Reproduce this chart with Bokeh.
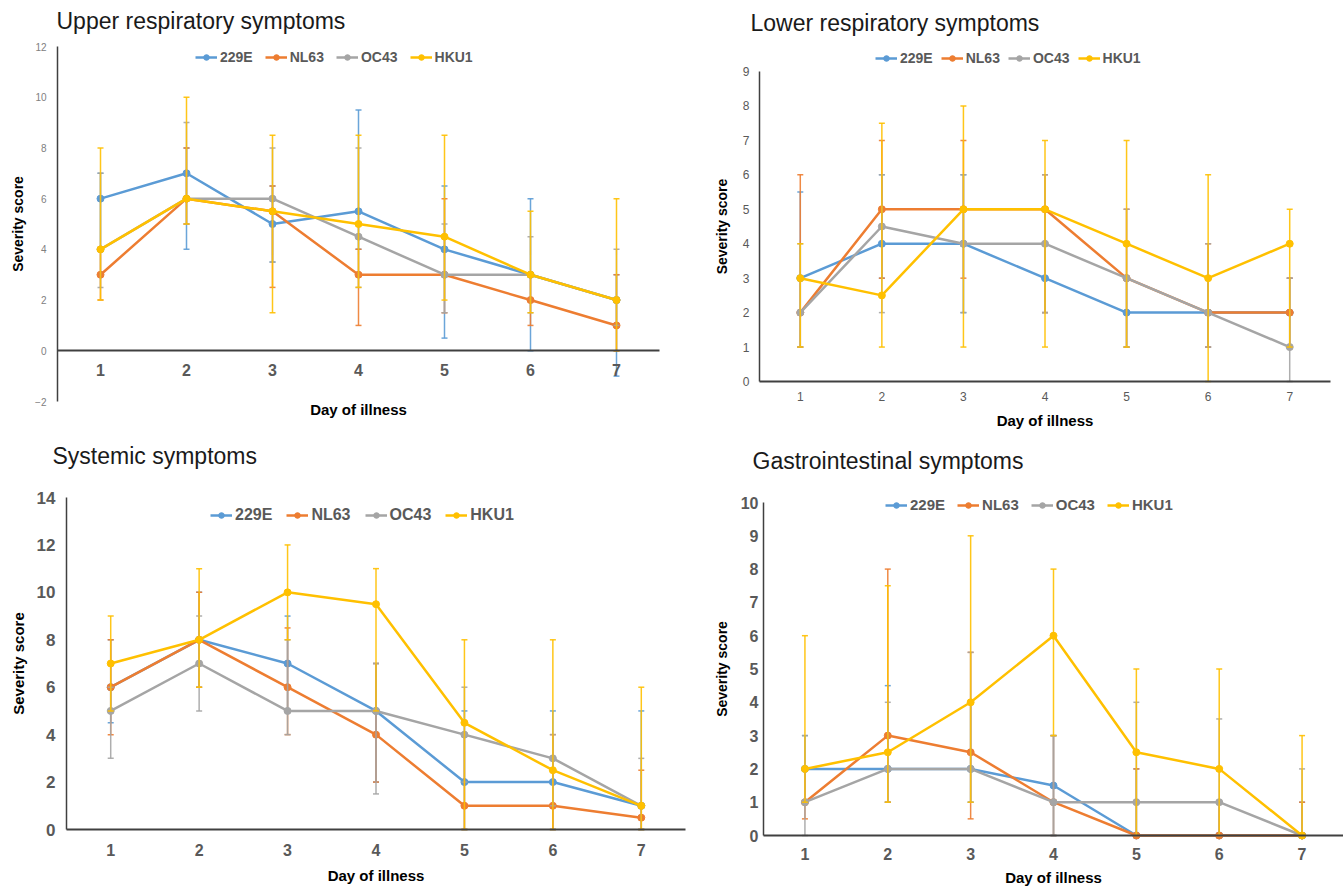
from bokeh.plotting import figure
from bokeh.layouts import column, row
from bokeh.models import Range1d, FixedTicker, Legend, LegendItem, Label
from bokeh.embed import file_html
from bokeh.resources import INLINE

# ---------------- data ----------------
days = [1, 2, 3, 4, 5, 6, 7]
series = ["229E", "NL63", "OC43", "HKU1"]
colors = ["#5B9BD5", "#ED7D31", "#A5A5A5", "#FFC000"]

# Upper respiratory
ur_229e = [6, 7, 5, 5.5, 4, 3, 2]
ur_229e_lo = [4, 4, 3.5, 4, 0.5, 0, -1]
ur_229e_hi = [7, 8, 6.5, 9.5, 6.5, 6, 3]
ur_nl63 = [3, 6, 5.5, 3, 3, 2, 1]
ur_nl63_lo = [2, 5, 2.5, 1, 1.5, 1, 0]
ur_nl63_hi = [4, 8, 6.5, 4, 6, 3, 3]
ur_oc43 = [4, 6, 6, 4.5, 3, 3, 2]
ur_oc43_lo = [2.5, 5, 3.5, 2.5, 1.5, 1.5, 1]
ur_oc43_hi = [7, 9, 8, 8, 5, 4.5, 4]
ur_hku1 = [4, 6, 5.5, 5, 4.5, 3, 2]
ur_hku1_lo = [2, 5, 1.5, 2.5, 2, 1.5, 0]
ur_hku1_hi = [8, 10, 8.5, 8.5, 8.5, 5.5, 6]

# Lower respiratory
lr_229e = [3, 4, 4, 3, 2, 2, 2]
lr_229e_lo = [1, 3, 2, 2, 1, 1, 1]
lr_229e_hi = [5.5, 6, 6, 4, 3, 3, 3]
lr_nl63 = [2, 5, 5, 5, 3, 2, 2]
lr_nl63_lo = [1, 3, 3, 2, 1, 1, 1]
lr_nl63_hi = [6, 7, 7, 6, 5, 4, 3]
lr_oc43 = [2, 4.5, 4, 4, 3, 2, 1]
lr_oc43_lo = [1, 2, 2, 2, 1, 1, 0]
lr_oc43_hi = [4, 6, 6, 6, 5, 4, 3]
lr_hku1 = [3, 2.5, 5, 5, 4, 3, 4]
lr_hku1_lo = [1, 1, 1, 1, 1, 0, 1]
lr_hku1_hi = [4, 7.5, 8, 7, 7, 6, 5]

# Systemic
sy_229e = [6, 8, 7, 5, 2, 2, 1]
sy_229e_lo = [4.5, 6, 5, 2, 0, 0, 0]
sy_229e_hi = [8, 10, 9, 7, 5, 5, 5]
sy_nl63 = [6, 8, 6, 4, 1, 1, 0.5]
sy_nl63_lo = [4, 6, 4, 2, 0, 0, 0]
sy_nl63_hi = [8, 10, 8.5, 7, 4, 4, 2.5]
sy_oc43 = [5, 7, 5, 5, 4, 3, 1]
sy_oc43_lo = [3, 5, 4, 1.5, 2, 1, 0]
sy_oc43_hi = [6, 9, 8, 7, 6, 4, 3]
sy_hku1 = [7, 8, 10, 9.5, 4.5, 2.5, 1]
sy_hku1_lo = [5, 6, 8, 5, 0, 0, 0]
sy_hku1_hi = [9, 11, 12, 11, 8, 8, 6]

# Gastrointestinal
gi_229e = [2, 2, 2, 1.5, 0, 0, 0]
gi_229e_lo = [1, 1, 1, 0, 0, 0, 0]
gi_229e_hi = [3, 4.5, 4, 3, 2, 1, 1]
gi_nl63 = [1, 3, 2.5, 1, 0, 0, 0]
gi_nl63_lo = [0.5, 1, 0.5, 0, 0, 0, 0]
gi_nl63_hi = [2, 8, 5.5, 3, 2, 1, 1]
gi_oc43 = [1, 2, 2, 1, 1, 1, 0]
gi_oc43_lo = [0, 1, 1, 0, 0, 0, 0]
gi_oc43_hi = [3, 4, 5.5, 3, 4, 3.5, 2]
gi_hku1 = [2, 2.5, 4, 6, 2.5, 2, 0]
gi_hku1_lo = [1, 1, 1, 3, 0, 0, 0]
gi_hku1_hi = [6, 7.5, 9, 8, 5, 5, 3]

FONT = "Liberation Sans"


def make_panel(title, vals, los, his, ybounds, yticks, g, s):
    W, H = g["W"], g["H"]
    # pixel geometry (relative to the figure's top-left) -> data ranges
    xs = (g["axr"] - g["axl"]) / 7.0
    x0 = 0.5 - g["axl"] / xs
    x1 = 0.5 + (W - g["axl"]) / xs
    ylo, yhi = ybounds
    ys = (g["ybot"] - g["ytop"]) / float(yhi - ylo)
    y1 = yhi + g["ytop"] / ys
    y0 = ylo - (H - g["ybot"]) / ys

    p = figure(width=W, height=H, min_border=0,
               x_range=Range1d(x0, x1), y_range=Range1d(y0, y1),
               output_backend="svg", toolbar_location=None)
    p.outline_line_color = None
    p.grid.visible = False
    p.background_fill_color = "white"
    p.border_fill_color = "white"

    xa = p.xaxis[0]
    xa.fixed_location = 0
    xa.bounds = (0.5, 7.5)
    xa.ticker = FixedTicker(ticks=days)
    xa.major_tick_line_color = None
    xa.major_tick_out = 0
    xa.major_tick_in = 0
    xa.minor_tick_line_color = None
    xa.axis_line_color = "#404040"
    xa.axis_line_width = 2
    xa.major_label_text_font = FONT
    xa.major_label_text_font_size = s["xfs"]
    xa.major_label_text_font_style = s["xst"]
    xa.major_label_text_color = "#595959"
    xa.major_label_standoff = s["xstand"]
    xa.axis_label = "Day of illness"
    xa.axis_label_standoff = s["xlstand"]
    xa.axis_label_text_font = FONT
    xa.axis_label_text_font_size = "15px"
    xa.axis_label_text_font_style = "bold"
    xa.axis_label_text_color = "#000000"

    ya = p.yaxis[0]
    ya.fixed_location = 0.5
    ya.bounds = ybounds
    ya.ticker = FixedTicker(ticks=yticks)
    ya.major_label_overrides = {t: ("\u2212" + str(-t)) for t in yticks if t < 0}
    ya.major_tick_line_color = None
    ya.major_tick_out = 0
    ya.major_tick_in = 0
    ya.minor_tick_line_color = None
    ya.axis_line_color = "#404040"
    ya.axis_line_width = 1.5
    ya.major_label_text_font = FONT
    ya.major_label_text_font_size = s["yfs"]
    ya.major_label_text_font_style = s["yst"]
    ya.major_label_text_color = s["ycol"]
    ya.major_label_standoff = s["ystand"]
    ya.axis_label = "Severity score"
    ya.axis_label_standoff = s["ylstand"]
    ya.axis_label_text_font = FONT
    ya.axis_label_text_font_size = s["ylfs"]
    ya.axis_label_text_font_style = "bold"
    ya.axis_label_text_color = "#000000"

    items = []
    for name, col, v, lo, hi in zip(series, colors, vals, los, his):
        p.segment(x0=days, y0=lo, x1=days, y1=hi, line_color=col, line_width=1.5, line_alpha=0.9)
        p.scatter(x=days + days, y=lo + hi, marker="dash", size=6, line_color=col,
                  line_width=1.5, line_alpha=0.9)
        lr = p.line(x=days, y=v, line_color=col, line_width=2.5)
        cr = p.scatter(x=days, y=v, marker="circle", size=7, fill_color=col, line_color=col)
        items.append(LegendItem(label=name, renderers=[lr, cr]))

    tx, ty = s["title_at"]
    p.add_layout(Label(x=tx, y=H - ty, x_units="screen", y_units="screen", text=title,
                       text_font=FONT, text_font_size="23px", text_color="#1a1a1a",
                       text_baseline="middle", text_align="left"))

    lx, lcy = s["leg_at"]
    leg = Legend(items=items, orientation="horizontal", location=(lx, H - lcy - 8),
                 border_line_color=None, background_fill_alpha=0,
                 padding=0, margin=0, spacing=s["legsp"], label_standoff=3,
                 glyph_width=22, glyph_height=14,
                 label_text_font=FONT, label_text_font_size=s["legfs"],
                 label_text_font_style="bold", label_text_color="#595959",
                 label_height=14)
    p.add_layout(leg, "center")
    return p


p1 = make_panel("Upper respiratory symptoms",
                [ur_229e, ur_nl63, ur_oc43, ur_hku1],
                [ur_229e_lo, ur_nl63_lo, ur_oc43_lo, ur_hku1_lo],
                [ur_229e_hi, ur_nl63_hi, ur_oc43_hi, ur_hku1_hi],
                (-2, 12), [-2, 0, 2, 4, 6, 8, 10, 12],
                dict(W=670, H=432, axl=57, axr=659, ytop=46, ybot=401),
                dict(xfs="16px", xst="bold", xstand=13, xlstand=22,
                     yfs="10px", yst="normal", ycol="#808080", ystand=11,
                     ylstand=6, ylfs="14px", title_at=(56, 20), leg_at=(195, 57),
                     legsp=12, legfs="14px"))

p2 = make_panel("Lower respiratory symptoms",
                [lr_229e, lr_nl63, lr_oc43, lr_hku1],
                [lr_229e_lo, lr_nl63_lo, lr_oc43_lo, lr_hku1_lo],
                [lr_229e_hi, lr_nl63_hi, lr_oc43_hi, lr_hku1_hi],
                (0, 9), list(range(0, 10)),
                dict(W=673, H=432, axl=89, axr=660, ytop=71, ybot=381),
                dict(xfs="12px", xst="normal", xstand=10, xlstand=8,
                     yfs="12px", yst="normal", ycol="#595959", ystand=10,
                     ylstand=10, ylfs="14px", title_at=(80, 22), leg_at=(205, 58),
                     legsp=8, legfs="14px"))

p3 = make_panel("Systemic symptoms",
                [sy_229e, sy_nl63, sy_oc43, sy_hku1],
                [sy_229e_lo, sy_nl63_lo, sy_oc43_lo, sy_hku1_lo],
                [sy_229e_hi, sy_nl63_hi, sy_oc43_hi, sy_hku1_hi],
                (0, 14), [0, 2, 4, 6, 8, 10, 12, 14],
                dict(W=690, H=454, axl=66, axr=685, ytop=65, ybot=397),
                dict(xfs="16px", xst="bold", xstand=14, xlstand=8,
                     yfs="17px", yst="bold", ycol="#595959", ystand=11,
                     ylstand=7, ylfs="15px", title_at=(52, 23), leg_at=(210, 84),
                     legsp=14, legfs="16px"))

p4 = make_panel("Gastrointestinal symptoms",
                [gi_229e, gi_nl63, gi_oc43, gi_hku1],
                [gi_229e_lo, gi_nl63_lo, gi_oc43_lo, gi_hku1_lo],
                [gi_229e_hi, gi_nl63_hi, gi_oc43_hi, gi_hku1_hi],
                (0, 10), list(range(0, 11)),
                dict(W=653, H=454, axl=73, axr=653, ytop=70, ybot=403),
                dict(xfs="16px", xst="bold", xstand=12, xlstand=6,
                     yfs="16px", yst="bold", ycol="#595959", ystand=5,
                     ylstand=8, ylfs="14px", title_at=(62, 28), leg_at=(195, 73),
                     legsp=12, legfs="15px"))

layout = column(row(p1, p2), row(p3, p4))
open("out.html", "w").write(file_html(layout, INLINE))
